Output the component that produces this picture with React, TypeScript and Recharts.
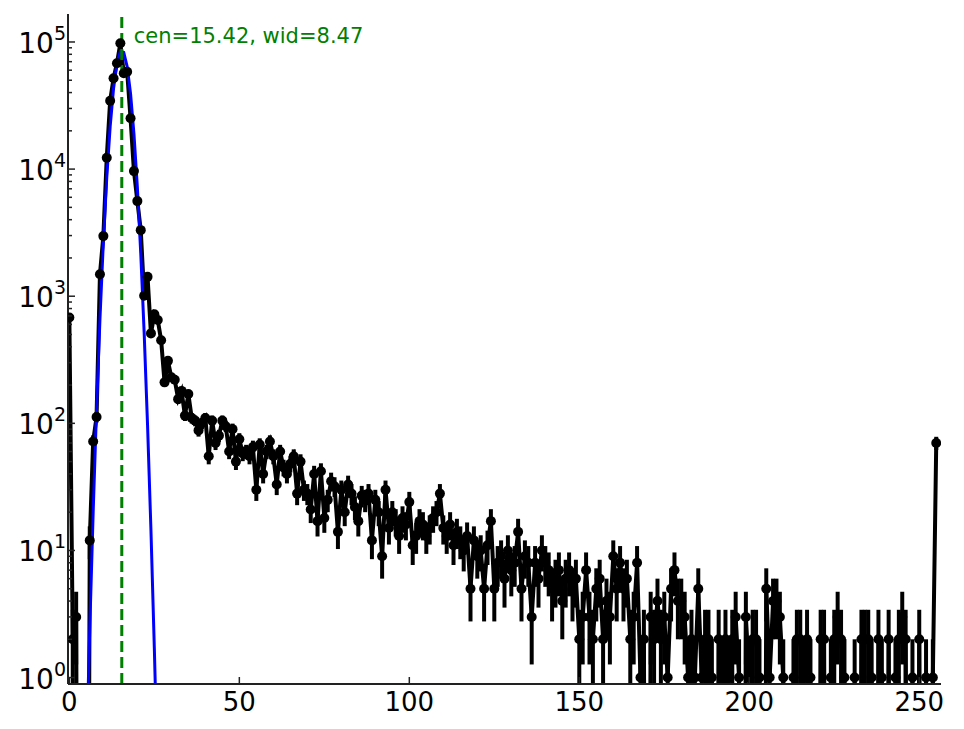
import { LineChart, Line, XAxis, YAxis, ErrorBar, ReferenceLine } from 'recharts'

// counts per channel, x = 0..255
const counts = [
  680, 2, 3, 0, 0, 0, 12, 72, 112, 1490,
  2970, 12300, 34500, 51800, 68000, 97700, 56700, 58400, 25100, 9640,
  5600, 3310, 1010, 1420, 510, 720, 650, 450, 210, 310,
  230, 220, 155, 180, 115, 170, 110, 105, 88, 100,
  110, 55, 105, 70, 80, 105, 95, 60, 90, 50,
  75, 58, 60, 55, 65, 30, 68, 40, 60, 72,
  55, 33, 60, 45, 40, 48, 55, 28, 50, 30,
  28, 21, 40, 17, 42, 18, 25, 35, 32, 14,
  30, 20, 33, 28, 22, 17, 27, 25, 28, 12,
  25, 20, 9, 30, 15, 20, 17, 13, 18, 16,
  24, 11, 13, 17, 16, 13, 15, 18, 20, 28,
  15, 13, 16, 11, 14, 12, 10, 13, 5, 12,
  9, 10, 5, 11, 17, 5, 8, 9, 6, 10,
  7, 8, 14, 5, 9, 8, 3, 8, 6, 10,
  8, 7, 5, 6, 7, 4, 6, 7, 5, 6,
  2, 3, 7, 3, 2, 5, 6, 2, 4, 3,
  9, 5, 8, 5, 6, 2, 3, 8, 1, 2,
  0, 3, 2, 4, 2, 3, 1, 5, 7, 4,
  4, 3, 1, 2, 1, 5, 1, 2, 2, 1,
  0, 2, 1, 2, 1, 2, 3, 1, 0, 3,
  1, 2, 2, 1, 0, 5, 1, 4, 4, 3,
  1, 0, 0, 1, 2, 2, 1, 2, 1, 0,
  0, 2, 2, 0, 1, 2, 3, 2, 1, 0,
  0, 1, 0, 2, 2, 2, 1, 0, 2, 1,
  0, 2, 0, 1, 2, 3, 2, 0, 1, 0,
  2, 0, 1, 0, 1, 70,
]

// gaussian fit evaluated on the channels around the peak
const fitX = [4, 5, 6, 7, 8, 9, 10, 11, 12, 13, 14, 15, 16, 17, 18, 19, 20, 21, 22, 23, 24, 25, 26, 27]
const fitValues = [
  0.0177, 0.233, 2.42, 19.9, 129, 662, 2682, 8565, 21620, 43080, 67780, 84230,
  82650, 64050, 39190, 18940, 7224, 2178, 518, 97.3, 14.4, 1.69, 0.156, 0.0114,
]

const fitCen = 15.42
const fitWid = 8.47

const xTicks = [0, 50, 100, 150, 200, 250]
const majorTicks = [1, 10, 100, 1000, 10000, 100000]
const minorMult = [2, 3, 4, 5, 6, 7, 8, 9]

const Y_MIN = 0.89
const Y_MAX = 166000
const FLOOR = 1e-6
const FONT = 'DejaVu Sans'
const SPINE = '#222'

const yTicks: number[] = []
majorTicks.forEach(m => {
  yTicks.push(m)
  if (m < 100000) minorMult.forEach(k => yTicks.push(m * k))
})

const data = counts.map((c, i) => {
  const v = c > 0 ? c : FLOOR
  const s = Math.sqrt(c)
  const lo = c > 0 ? Math.max(c - s, Y_MIN) : v
  const hi = c > 0 ? c + s : v
  const fi = fitX.indexOf(i)
  return {
    x: i,
    y: v,
    err: [v - lo, hi - v],
    fit: fi >= 0 ? fitValues[fi] : null,
  }
})

function XTick({ x = 0, y = 0, payload }: any) {
  return (
    <g>
      <line x1={x} y1={y} x2={x} y2={y - 7} stroke={SPINE} strokeWidth={1.5} />
      <text x={x} y={y + 27} textAnchor="middle" fontSize={26} fontFamily={FONT} fill="#000">
        {payload.value}
      </text>
    </g>
  )
}

function YTick({ x = 0, y = 0, payload }: any) {
  const v = payload.value
  const isMajor = majorTicks.includes(v)
  const exp = Math.round(Math.log10(v))
  return (
    <g>
      <line x1={x} y1={y} x2={x + (isMajor ? 7 : 4)} y2={y} stroke={SPINE} strokeWidth={1.5} />
      {isMajor && (
        <text x={x - 2} y={y + 11} textAnchor="end" fontFamily={FONT} fill="#000">
          <tspan fontSize={28}>10</tspan>
          <tspan fontSize={19} dy={-13}>{exp}</tspan>
        </text>
      )}
    </g>
  )
}

function CenLabel({ viewBox }: any) {
  const vx = viewBox?.x ?? 0
  const vy = viewBox?.y ?? 0
  return (
    <text x={vx + 12} y={vy + 29} fontSize={21} fontFamily={FONT} fill="#008000">
      {`cen=${fitCen.toFixed(2)}, wid=${fitWid.toFixed(2)}`}
    </text>
  )
}

function Dot({ cx, cy }: any) {
  if (cx == null || cy == null || !isFinite(cy)) return null
  return <circle cx={cx} cy={cy} r={5} fill="#000" />
}

export default function App() {
  return (
    <div style={{ position: 'absolute', left: 0, top: 0, width: 964, height: 729, background: '#fff' }}>
      <LineChart
        width={964}
        height={729}
        data={data}
        margin={{ top: 14, right: 23, bottom: 0, left: 0 }}
      >
        <XAxis
          dataKey="x"
          type="number"
          domain={[-0.4, 256.4]}
          ticks={xTicks}
          allowDataOverflow
          height={45}
          tickLine={false}
          tickSize={0}
          tickMargin={0}
          axisLine={{ stroke: SPINE, strokeWidth: 2 }}
          tick={<XTick />}
        />
        <XAxis
          xAxisId="top"
          orientation="top"
          type="number"
          domain={[0, 1]}
          height={0}
          tick={false}
          tickLine={false}
          axisLine={{ stroke: SPINE, strokeWidth: 2 }}
        />
        <YAxis
          scale="log"
          type="number"
          domain={[Y_MIN, Y_MAX]}
          allowDataOverflow
          ticks={yTicks}
          interval={0}
          width={68}
          tickLine={false}
          tickSize={0}
          tickMargin={0}
          axisLine={{ stroke: SPINE, strokeWidth: 2 }}
          tick={<YTick />}
        />
        <YAxis
          yAxisId="right"
          orientation="right"
          type="number"
          domain={[0, 1]}
          width={0}
          tick={false}
          tickLine={false}
          axisLine={{ stroke: SPINE, strokeWidth: 2 }}
        />
        <Line
          dataKey="y"
          type="linear"
          stroke="#000"
          strokeWidth={4}
          dot={<Dot />}
          activeDot={false}
          isAnimationActive={false}
        >
          <ErrorBar dataKey="err" width={0} stroke="#000" strokeWidth={4} direction="y" />
        </Line>
        <Line
          dataKey="fit"
          type="linear"
          stroke="#0000ff"
          strokeWidth={3}
          dot={false}
          activeDot={false}
          isAnimationActive={false}
        />
        <ReferenceLine
          x={fitCen}
          stroke="#008000"
          strokeWidth={3}
          strokeDasharray="11 5"
          label={<CenLabel />}
        />
      </LineChart>
    </div>
  )
}
